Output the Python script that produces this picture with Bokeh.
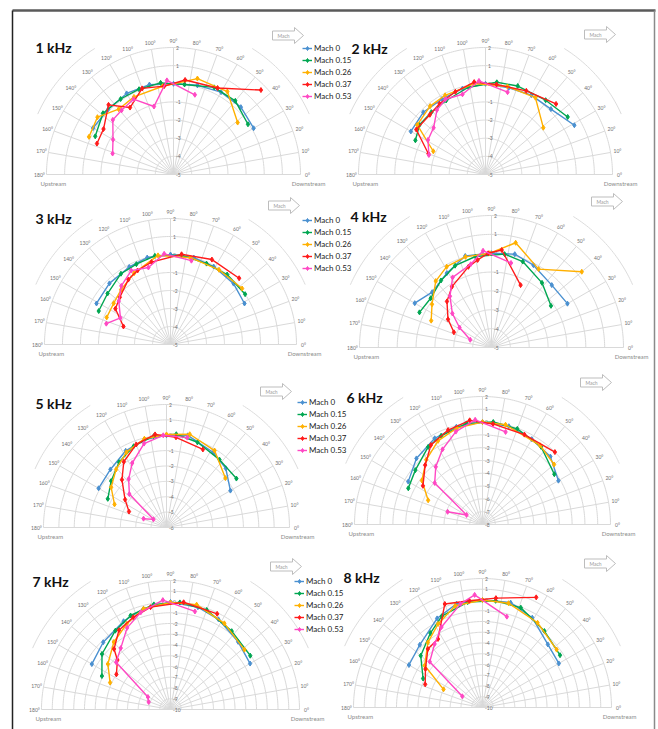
import numpy as np
from bokeh.plotting import figure
from bokeh.models import Range1d, Legend, LegendItem
from bokeh.embed import file_html
from bokeh.resources import INLINE
from bokeh.core.properties import value

# ---------------- data ----------------
mach_names = ["Mach 0", "Mach 0.15", "Mach 0.26", "Mach 0.37", "Mach 0.53"]
series_colors = ["#4A90D0", "#00A651", "#FFB000", "#FF1A1A", "#FF48C4"]
panel_titles = ["1 kHz", "2 kHz", "3 kHz", "4 kHz", "5 kHz", "6 kHz", "7 kHz", "8 kHz"]
radial_min = [-5, -5, -5, -5, -6, -8, -10, -10]
radial_max = [2, 2, 2, 2, 2, 2, 2, 2]

# 1 kHz
ang_1k_m000 = [30, 45, 60, 75, 90, 105, 120, 135, 150]
db_1k_m000 = [0.1, 0.25, 0.24, 0.09, 0.0, 0.13, 0.16, 0.09, 0.12]
ang_1k_m015 = [34, 50, 65, 83, 98, 112, 125, 139, 154]
db_1k_m015 = [-0.05, 0.3, 0.3, 0.0, 0.1, 0.07, 0.08, 0.15, -0.2]
ang_1k_m026 = [39, 57, 76, 97, 117, 130, 143, 156]
db_1k_m026 = [-0.45, 0.45, 0.45, -0.1, -0.2, -0.3, 0.25, 0.1]
ang_1k_m037 = [44, 63, 83, 96, 110, 123, 133, 147, 158]
db_1k_m037 = [1.7, 0.35, 0.25, -0.1, 0.05, -0.6, 0.25, -0.4, -0.45]
ang_1k_m053 = [75, 94, 106, 118, 129, 138, 150, 161]
db_1k_m053 = [-0.45, 0.2, -1.1, -0.3, -0.45, -0.5, -1.15, -1.45]

# 2 kHz
ang_2k_m000 = [29, 45, 60, 75, 90, 105, 120, 135, 150]
db_2k_m000 = [0.6, 0.1, 0.05, -0.05, 0.0, -0.1, -0.2, -0.15, -0.25]
ang_2k_m015 = [35, 51, 70, 83, 101, 118, 131, 143, 154]
db_2k_m015 = [0.53, 0.27, 0.19, 0.12, -0.1, -0.38, -0.45, -0.45, -0.7]
ang_2k_m026 = [39, 57, 76, 97, 117, 129, 144, 156]
db_2k_m026 = [-0.9, 0.05, 0.0, 0.05, -0.1, -0.15, -0.35, -1.85]
ang_2k_m037 = [45, 64, 83, 97, 110, 123, 133, 147, 160]
db_2k_m037 = [0.5, 0.13, 0.0, 0.13, -0.15, -0.35, -0.5, -0.45, -1.65]
ang_2k_m053 = [75, 94, 106, 118, 127, 138, 149, 161]
db_2k_m053 = [-0.3, 0.17, -0.4, -0.3, -0.55, -1.15, -1.3, -1.7]

# 3 kHz
ang_3k_m000 = [29, 44, 61, 75, 90, 105, 118, 135, 151]
db_3k_m000 = [-0.3, -0.13, -0.05, 0.0, 0.0, 0.0, -0.12, -0.2, -0.3]
ang_3k_m015 = [34, 51, 66, 83, 100, 113, 125, 141, 155]
db_3k_m015 = [0.0, 0.0, -0.08, 0.0, 0.0, -0.15, -0.2, -0.5, -0.6]
ang_3k_m026 = [38, 57, 77, 98, 117, 132, 144, 157]
db_3k_m026 = [0.05, -0.05, -0.05, 0.0, -0.55, -0.9, -1.1, -1.15]
ang_3k_m037 = [44, 64, 83, 103, 114, 123, 137, 147, 159]
db_3k_m037 = [0.3, 0.25, 0.05, -0.3, -0.5, -0.7, -1.15, -1.35, -2.2]
ang_3k_m053 = [76, 94, 106, 118, 130, 140, 152, 162]
db_3k_m053 = [-0.2, 0.05, -0.55, -0.35, -0.75, -1.25, -1.85, -1.25]

# 4 kHz
ang_4k_m000 = [30, 46, 63, 76, 90, 106, 121, 137, 150]
db_4k_m000 = [-0.35, -0.4, -0.1, 0.1, 0.0, 0.05, -0.4, -0.7, -0.3]
ang_4k_m015 = [35, 52, 70, 82, 100, 114, 127, 141, 154]
db_4k_m015 = [-1.15, -0.65, -0.15, 0.0, -0.1, -0.25, -0.55, -0.85, -0.75]
ang_4k_m026 = [40, 59, 77, 91, 106, 119, 130, 144, 156]
db_4k_m026 = [1.25, -0.15, 0.7, 0.0, 0.0, -0.1, -0.4, -1.1, -1.5]
ang_4k_m037 = [65, 84, 92, 99, 106, 123, 134, 147, 158]
db_4k_m037 = [-1.35, 0.2, 0.0, -0.3, -0.55, -1.15, -1.6, -2.25, -2.85]
ang_4k_m053 = [77, 95, 104, 119, 129, 139, 148, 160]
db_4k_m053 = [-0.4, 0.15, -0.45, -0.75, -1.5, -2.25, -3.0, -3.8]

# 5 kHz
ang_5k_m000 = [30, 45, 58, 77, 90, 104, 118, 134, 150]
db_5k_m000 = [-1.2, -0.55, -0.25, 0.15, 0.0, -0.1, -0.35, -0.75, -0.9]
ang_5k_m015 = [35, 52, 70, 84, 98, 112, 126, 140, 154]
db_5k_m015 = [-0.45, -0.4, -0.1, 0.1, 0.0, -0.3, -0.75, -1.3, -1.75]
ang_5k_m026 = [40, 58, 76, 90, 104, 118, 131, 144, 156]
db_5k_m026 = [-1.0, -0.1, 0.25, 0.05, -0.05, -0.45, -1.0, -1.55, -2.3]
ang_5k_m037 = [65, 84, 97, 110, 123, 133, 146, 157]
db_5k_m037 = [-0.4, -0.1, 0.1, -0.25, -0.9, -1.75, -2.75, -3.35]
ang_5k_m053 = [77, 92, 105, 118, 128, 138, 148, 159]
db_5k_m053 = [0.0, 0.0, -0.35, -1.25, -2.0, -2.75, -5.0, -4.4]

# 6 kHz
ang_6k_m000 = [30, 45, 60, 75, 90, 105, 119, 135, 150]
db_6k_m000 = [-1.15, -0.5, -0.3, -0.05, 0.0, -0.1, -0.3, -0.7, -1.3]
ang_6k_m015 = [35, 53, 70, 84, 99, 115, 125, 141, 154]
db_6k_m015 = [-1.15, -0.4, -0.05, 0.05, 0.0, -0.35, -0.6, -1.25, -1.55]
ang_6k_m026 = [40, 54, 77, 90, 105, 118, 131, 144, 156]
db_6k_m026 = [-0.7, -0.35, 0.0, 0.0, -0.2, -0.6, -1.3, -2.15, -3.35]
ang_6k_m037 = [45, 65, 84, 97, 110, 123, 134, 147]
db_6k_m037 = [0.0, -0.25, -0.1, 0.2, -0.15, -0.6, -1.55, -2.45]
ang_6k_m053 = [76, 94, 106, 118, 129, 139, 149, 160]
db_6k_m053 = [-0.55, 0.2, -0.45, -1.35, -2.2, -3.05, -6.55, -5.1]

# 7 kHz
ang_7k_m000 = [30, 45, 62, 75, 90, 105, 118, 135, 150]
db_7k_m000 = [-1.45, -1.1, -0.5, -0.15, 0.0, -0.3, -0.7, -1.15, -1.55]
ang_7k_m015 = [34, 52, 70, 85, 99, 113, 125, 141, 154]
db_7k_m015 = [-1.05, -0.75, -0.15, 0.0, -0.1, -0.5, -1.05, -1.8, -2.9]
ang_7k_m026 = [39, 58, 76, 90, 105, 117, 130, 144, 156]
db_7k_m026 = [-1.15, -0.55, 0.05, -0.05, -0.3, -1.05, -1.8, -2.8, -3.85]
ang_7k_m037 = [64, 83, 101, 112, 123, 133, 137, 147]
db_7k_m037 = [-0.1, 0.05, -0.3, -0.75, -1.2, -2.3, -3.25, -4.0]
ang_7k_m053 = [76, 94, 107, 118, 129, 139, 151, 161]
db_7k_m053 = [-0.6, 0.2, -0.55, -1.4, -2.65, -3.3, -7.6, -7.85]

# 8 kHz
ang_8k_m000 = [30, 44, 61, 75, 90, 104, 117, 135, 150]
db_8k_m000 = [-1.8, -1.55, -0.45, 0.1, 0.0, -0.05, -0.7, -1.75, -2.1]
ang_8k_m015 = [34, 51, 69, 83, 98, 114, 125, 140, 154]
db_8k_m015 = [-1.3, -0.85, -0.05, 0.0, -0.1, -0.7, -1.55, -2.5, -3.85]
ang_8k_m026 = [38, 57, 76, 90, 105, 118, 130, 144, 155]
db_8k_m026 = [-1.25, -0.6, 0.0, 0.0, -0.2, -1.2, -2.1, -3.35, -6.0]
ang_8k_m037 = [64, 83, 97, 110, 123, 133, 146, 158]
db_8k_m037 = [1.4, 0.25, 0.0, 0.25, -2.4, -2.55, -3.6, -4.25]
ang_8k_m053 = [75, 94, 102, 117, 127, 139, 151]
db_8k_m053 = [-1.25, 0.5, -0.15, -1.6, -2.6, -3.5, -7.85]

angle_ticks = list(range(0, 181, 10))

panel_series = [
    [(ang_1k_m000, db_1k_m000), (ang_1k_m015, db_1k_m015), (ang_1k_m026, db_1k_m026), (ang_1k_m037, db_1k_m037), (ang_1k_m053, db_1k_m053)],
    [(ang_2k_m000, db_2k_m000), (ang_2k_m015, db_2k_m015), (ang_2k_m026, db_2k_m026), (ang_2k_m037, db_2k_m037), (ang_2k_m053, db_2k_m053)],
    [(ang_3k_m000, db_3k_m000), (ang_3k_m015, db_3k_m015), (ang_3k_m026, db_3k_m026), (ang_3k_m037, db_3k_m037), (ang_3k_m053, db_3k_m053)],
    [(ang_4k_m000, db_4k_m000), (ang_4k_m015, db_4k_m015), (ang_4k_m026, db_4k_m026), (ang_4k_m037, db_4k_m037), (ang_4k_m053, db_4k_m053)],
    [(ang_5k_m000, db_5k_m000), (ang_5k_m015, db_5k_m015), (ang_5k_m026, db_5k_m026), (ang_5k_m037, db_5k_m037), (ang_5k_m053, db_5k_m053)],
    [(ang_6k_m000, db_6k_m000), (ang_6k_m015, db_6k_m015), (ang_6k_m026, db_6k_m026), (ang_6k_m037, db_6k_m037), (ang_6k_m053, db_6k_m053)],
    [(ang_7k_m000, db_7k_m000), (ang_7k_m015, db_7k_m015), (ang_7k_m026, db_7k_m026), (ang_7k_m037, db_7k_m037), (ang_7k_m053, db_7k_m053)],
    [(ang_8k_m000, db_8k_m000), (ang_8k_m015, db_8k_m015), (ang_8k_m026, db_8k_m026), (ang_8k_m037, db_8k_m037), (ang_8k_m053, db_8k_m053)],
]

# ---------------- layout (page pixels) ----------------
centers = [(173, 174), (485, 174), (170, 344), (491, 347), (166, 527), (482, 524), (170, 709), (482, 707)]
radii = [127, 127, 126, 132, 123, 128, 129, 129]
title_pos = [(35, 47), (351, 47.5), (35, 218), (350, 215.5), (35, 403), (346, 397), (32, 581), (343, 577)]
arrow_pos = [(272, 27), (584, 26), (268, 197), (591, 193), (260, 383), (580, 374), (270, 558), (584, 555)]
legend_pos = {0: (302, 47), 2: (302, 219.5), 4: (297, 401), 6: (294, 580)}

FONT = "Lato"
GRID = "#D9D9D9"
W, H = 658, 729
X0, Y0 = 0, 0

p = figure(width=W, height=H, x_range=Range1d(X0, X0 + W), y_range=Range1d(Y0 + H, Y0),
           output_backend="svg", toolbar_location=None, min_border=0,
           x_axis_type=None, y_axis_type=None)
p.grid.visible = False
p.outline_line_color = None
p.background_fill_color = "white"
p.border_fill_color = "white"

# outer frame
p.line([12, 655], [10, 10], line_color="#5A5A5A", line_width=2.5)
p.line([12, 12], [10, 729], line_color="#222222", line_width=1.5)
p.line([654, 654], [10, 729], line_color="#8A8A8A", line_width=1.5)


def polar(cx, cy, R, rmin, rmax, ang_deg, vals):
    a = np.radians(np.asarray(ang_deg, dtype=float))
    r = (np.asarray(vals, dtype=float) - rmin) / (rmax - rmin) * R
    return cx + r * np.cos(a), cy - r * np.sin(a)


th = np.linspace(0, np.pi, 181)
for i in range(8):
    cx, cy = centers[i]
    R = radii[i]
    rmin, rmax = radial_min[i], radial_max[i]

    # faint outer arcs
    for a0, a1 in [(24, 58), (122, 156)]:
        t = np.radians(np.linspace(a0, a1, 40))
        p.line(cx + 1.17 * R * np.cos(t), cy - 1.17 * R * np.sin(t), line_color="#DCDCDC", line_width=1)

    # rings
    xs, ys = [], []
    for k in range(rmin, rmax + 1):
        rr = (k - rmin) / (rmax - rmin) * R
        xs.append(list(cx + rr * np.cos(th)))
        ys.append(list(cy - rr * np.sin(th)))
    # spokes
    for a in angle_ticks:
        ar = np.radians(a)
        xs.append([cx, cx + R * np.cos(ar)])
        ys.append([cy, cy - R * np.sin(ar)])
    p.multi_line(xs, ys, line_color=GRID, line_width=1)

    # angle labels
    lx, ly = polar(cx, cy, R + 7, 0, 1, angle_ticks, [1] * len(angle_ticks))
    p.text(lx, ly, text=[f"{a}°" for a in angle_ticks], text_font=value(FONT),
           text_font_size="5px", text_color="#707070", text_align="center", text_baseline="middle")

    # radial labels
    ks = list(range(rmin, rmax + 1))
    rx = [cx + 2.5] * len(ks)
    ry = [cy - (k - rmin) / (rmax - rmin) * R for k in ks]
    p.text(rx, ry, text=[str(k) for k in ks], text_font=value(FONT), text_font_size="5px",
           text_color="#707070", text_align="left", text_baseline="middle")

    # upstream / downstream
    p.text([cx - R - 6], [cy + 9], text=["Upstream"], text_font=value(FONT), text_font_size="6px",
           text_color="#8C8C8C", text_align="left", text_baseline="middle")
    p.text([cx + R + 25], [cy + 9], text=["Downstream"], text_font=value(FONT), text_font_size="6px",
           text_color="#8C8C8C", text_align="right", text_baseline="middle")

    # title
    tx, ty = title_pos[i]
    p.text([tx], [ty], text=[panel_titles[i]], text_font=value(FONT), text_font_size="14px",
           text_font_style="bold", text_color="#111111", text_align="left", text_baseline="middle")

    # Mach arrow
    ax, ay = arrow_pos[i]
    px_ = [0, 22, 22, 31, 22, 22, 0]
    py_ = [3.5, 3.5, 0, 8, 16, 12.5, 12.5]
    p.patch([ax + v for v in px_], [ay + v for v in py_], fill_color="white",
            line_color="#BDBDBD", line_width=1)
    p.text([ax + 11], [ay + 8], text=["Mach"], text_font=value(FONT), text_font_size="5px",
           text_color="#9A9A9A", text_align="center", text_baseline="middle")

    # data series
    items = []
    for s, (ang, db) in enumerate(panel_series[i]):
        x, y = polar(cx, cy, R, rmin, rmax, ang, db)
        lr = p.line(x, y, line_color=series_colors[s], line_width=1.4)
        sr = p.scatter(x, y, marker="diamond", size=5, fill_color=series_colors[s],
                       line_color=series_colors[s])
        items.append(LegendItem(label=mach_names[s], renderers=[lr, sr]))

    if i in legend_pos:
        gx, gy = legend_pos[i]
        item_h = 12.2
        top = gy - item_h / 2
        leg = Legend(items=items, location=(gx - X0, (Y0 + H) - top - 5 * item_h),
                     orientation="vertical", padding=0, spacing=0, margin=0,
                     glyph_width=10, glyph_height=12, label_height=12, label_standoff=2,
                     label_text_font=FONT, label_text_font_size="8px", label_text_color="#222222",
                     border_line_color=None, background_fill_alpha=0)
        p.add_layout(leg, "center")

open("out.html", "w").write(file_html(p, INLINE))
